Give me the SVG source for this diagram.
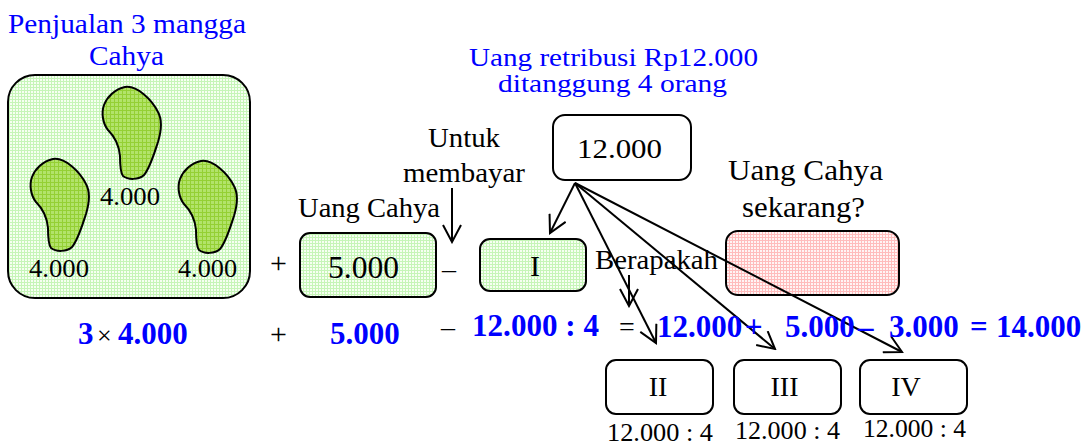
<svg xmlns="http://www.w3.org/2000/svg" xmlns:xlink="http://www.w3.org/1999/xlink" width="1089" height="443" viewBox="0 0 1089 443" font-family="'Liberation Serif', 'DejaVu Serif', serif">
  <style>
    .blue { fill: #0000ff; }
    .ink { fill: #000000; }
    .bold { font-weight: bold; fill: #0000ff; }
    .box { stroke: #000; stroke-width: 2; }
    .wire { stroke: #000; stroke-width: 2; fill: none; marker-end: url(#head); }
    .mango { fill: url(#mangoFill); stroke: #000; stroke-width: 2; }
  </style>
  <defs>
    <!-- fine dotted grid fills -->
    <pattern id="greenDots" width="3" height="3" patternUnits="userSpaceOnUse">
      <rect width="3" height="3" fill="#f6fff2"/>
      <rect width="3" height="1" fill="#c6f5b8"/>
      <rect width="1" height="3" fill="#c6f5b8"/>
    </pattern>
    <pattern id="pinkDots" width="3" height="3" patternUnits="userSpaceOnUse">
      <rect width="3" height="3" fill="#fff4f4"/>
      <rect width="3" height="1" fill="#ffbcbc"/>
      <rect width="1" height="3" fill="#ffbcbc"/>
    </pattern>
    <pattern id="mangoFill" width="4" height="4" patternUnits="userSpaceOnUse">
      <rect width="4" height="4" fill="#b2e36a"/>
      <rect width="4" height="1" fill="#94d034"/>
      <rect width="1" height="4" fill="#94d034"/>
    </pattern>
    <!-- one mango outline, reused three times -->
    <path id="mango" d="M23,1 C35,-1 50,14 56,26 C61,35 59,46 56,56 C52,68 48,82 42,89 C37,94 26,94 21,90 C18,86 18,78 18,70 C17,58 12,50 6,44 C1,38 -1,27 2,19 C5,11 13,3 23,1 Z"/>
    <!-- open V arrowhead -->
    <marker id="head" markerUnits="userSpaceOnUse" markerWidth="20" markerHeight="20" viewBox="0 0 20 20" refX="18" refY="10" orient="auto">
      <path d="M1,1 L18,10 L1,19" fill="none" stroke="#000" stroke-width="2"/>
    </marker>
  </defs>

  <rect width="1089" height="443" fill="#ffffff"/>

  <!-- headings -->
  <g id="headings" font-size="27">
    <text x="8" y="33" textLength="238" lengthAdjust="spacingAndGlyphs" class="blue">Penjualan 3 mangga</text>
    <text x="89" y="65" textLength="75" lengthAdjust="spacingAndGlyphs" class="blue">Cahya</text>
    <text x="469" y="66" font-size="26" textLength="289" lengthAdjust="spacingAndGlyphs" class="blue">Uang retribusi Rp12.000</text>
    <text x="498" y="92" font-size="26" textLength="229" lengthAdjust="spacingAndGlyphs" class="blue">ditanggung 4 orang</text>
  </g>

  <!-- three mangoes -->
  <g id="mangoes">
    <rect class="box" x="8" y="75" width="242" height="223" rx="27" fill="url(#greenDots)" stroke-width="2.5"/>
    <use href="#mango" xlink:href="#mango" class="mango" x="102" y="86"/>
    <use href="#mango" xlink:href="#mango" class="mango" x="30" y="158"/>
    <use href="#mango" xlink:href="#mango" class="mango" x="178" y="160"/>
    <text x="100" y="205" font-size="26" textLength="60" lengthAdjust="spacingAndGlyphs" class="ink">4.000</text>
    <text x="29" y="277" font-size="26" textLength="60" lengthAdjust="spacingAndGlyphs" class="ink">4.000</text>
    <text x="178" y="277" font-size="26" textLength="59" lengthAdjust="spacingAndGlyphs" class="ink">4.000</text>
  </g>

  <g id="plus-top">
    <text x="270" y="273" font-size="30" class="ink">+</text>
  </g>

  <!-- Cahya's own money -->
  <g id="uang-cahya">
    <text x="298" y="217" font-size="27" textLength="142" lengthAdjust="spacingAndGlyphs" class="ink">Uang Cahya</text>
    <rect class="box" x="300" y="233" width="136" height="64" rx="10" fill="url(#greenDots)"/>
    <text x="328" y="278" font-size="31" textLength="71" lengthAdjust="spacingAndGlyphs" class="ink">5.000</text>
  </g>

  <g id="minus-top">
    <text x="442" y="278" font-size="28" class="ink">–</text>
  </g>

  <g id="untuk-membayar">
    <text x="428" y="147" font-size="28" textLength="72" lengthAdjust="spacingAndGlyphs" class="ink">Untuk</text>
    <text x="403" y="182" font-size="28" textLength="122" lengthAdjust="spacingAndGlyphs" class="ink">membayar</text>
  </g>

  <g id="share-I">
    <rect class="box" x="480" y="239" width="106" height="52" rx="10" fill="url(#greenDots)"/>
    <text x="535" y="276" font-size="30" text-anchor="middle" class="ink">I</text>
  </g>

  <g id="retribusi">
    <rect class="box" x="553" y="115" width="138" height="65" rx="12" fill="#ffffff"/>
    <text x="577" y="158" font-size="28" textLength="85" lengthAdjust="spacingAndGlyphs" class="ink">12.000</text>
  </g>

  <g id="berapakah">
    <text x="595" y="269" font-size="28" textLength="123" lengthAdjust="spacingAndGlyphs" class="ink">Berapakah</text>
  </g>

  <g id="uang-sekarang">
    <text x="728" y="180" font-size="30" textLength="155" lengthAdjust="spacingAndGlyphs" class="ink">Uang Cahya</text>
    <text x="742" y="217" font-size="30" textLength="123" lengthAdjust="spacingAndGlyphs" class="ink">sekarang?</text>
    <rect class="box" x="726" y="231" width="173" height="64" rx="12" fill="url(#pinkDots)"/>
  </g>

  <g id="share-II">
    <rect class="box" x="606" y="360" width="107" height="54" rx="10" fill="#ffffff"/>
    <text x="658" y="396" font-size="28" text-anchor="middle" class="ink">II</text>
    <text x="607" y="441" font-size="26" textLength="106" lengthAdjust="spacingAndGlyphs" class="ink">12.000 : 4</text>
  </g>
  <g id="share-III">
    <rect class="box" x="734" y="360" width="107" height="54" rx="10" fill="#ffffff"/>
    <text x="784.5" y="396" font-size="28" text-anchor="middle" class="ink">III</text>
    <text x="735" y="439" font-size="26" textLength="105" lengthAdjust="spacingAndGlyphs" class="ink">12.000 : 4</text>
  </g>
  <g id="share-IV">
    <rect class="box" x="860" y="360" width="107" height="54" rx="10" fill="#ffffff"/>
    <text x="906" y="396" font-size="28" text-anchor="middle" class="ink">IV</text>
    <text x="863" y="437" font-size="26" textLength="103" lengthAdjust="spacingAndGlyphs" class="ink">12.000 : 4</text>
  </g>

  <!-- arrows -->
  <g id="connectors">
    <line class="wire" x1="452" y1="188" x2="452" y2="242"/>
    <line class="wire" x1="629" y1="275" x2="629" y2="306"/>
    <line class="wire" x1="575" y1="183" x2="550" y2="233"/>
    <line class="wire" x1="575" y1="183" x2="656" y2="343"/>
    <line class="wire" x1="575" y1="183" x2="775" y2="349"/>
    <line class="wire" x1="575" y1="183" x2="902" y2="352"/>
  </g>

  <!-- worked calculation -->
  <g id="equation" font-size="31">
    <text y="344"><tspan x="78" class="bold">3</tspan><tspan x="97" font-size="26" class="ink" font-weight="normal">×</tspan><tspan x="118" class="bold">4.000</tspan></text>
    <text x="270" y="344" font-size="30" class="ink">+</text>
    <text x="330" y="344" class="bold">5.000</text>
    <text x="441" y="336" font-size="28" class="ink">–</text>
    <text x="472" y="336" class="bold" textLength="127" lengthAdjust="spacingAndGlyphs">12.000 : 4</text>
    <text x="619" y="336" font-size="28" class="ink">=</text>
    <text y="337" class="bold"><tspan x="657">12.000</tspan><tspan x="745">+</tspan><tspan x="785">5.000</tspan><tspan x="858">–</tspan><tspan x="889">3.000</tspan><tspan x="970">=</tspan><tspan x="996">14.000</tspan></text>
  </g>
</svg>
